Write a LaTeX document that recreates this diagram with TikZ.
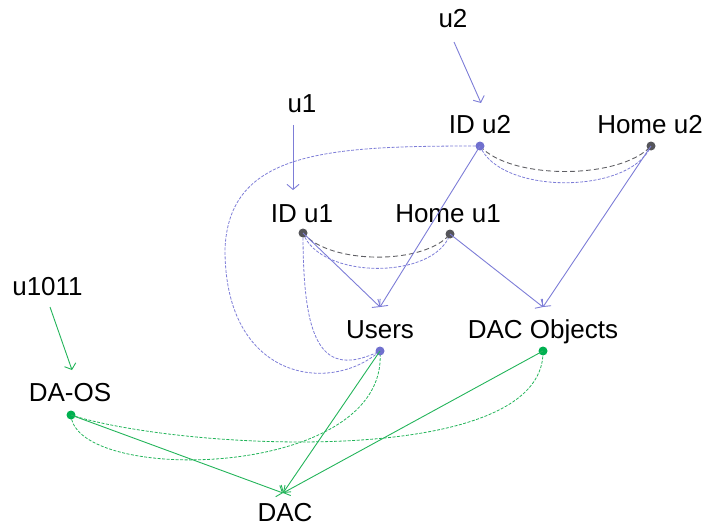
\documentclass[tikz,border=0pt]{standalone}
\usepackage{fontspec}
\setmainfont{Liberation Sans}
\usetikzlibrary{arrows.meta}
\definecolor{bline}{RGB}{125,125,215}
\definecolor{bdot}{RGB}{112,112,206}
\definecolor{gline}{RGB}{35,180,90}
\definecolor{gdot}{RGB}{0,176,80}
\definecolor{kdot}{RGB}{85,85,90}
\definecolor{kline}{RGB}{95,95,100}
\tikzset{
  lbl/.style={anchor=base, inner sep=0pt, font=\fontsize{26}{30}\selectfont},
  dotnode/.style={circle, fill=#1, inner sep=0pt, minimum size=9pt},
  tip/.style={-{Straight Barb[length=5pt,width=12pt]}},
  flow/.style={draw=#1, line width=0.9pt, tip},
  link/.style={draw=#1, line width=0.8pt, dash pattern=on 3pt off 1.5pt},
  graylink/.style={draw=kline, line width=0.9pt, dash pattern=on 5pt off 3pt},
}
\begin{document}
\begin{tikzpicture}[x=1pt, y=-1pt]
\useasboundingbox (0,0) rectangle (705,527);

% labels
\node[lbl] (u2)    at (453,28)  {u2};
\node[lbl] (u1)    at (302,113) {u1};
\node[lbl] (idu2l) at (480,133) {ID u2};
\node[lbl] (hu2l)  at (650,133) {Home u2};
\node[lbl] (idu1l) at (302,222) {ID u1};
\node[lbl] (hu1l)  at (448,222) {Home u1};
\node[lbl] (usl)   at (380,338) {Users};
\node[lbl] (dacol) at (543,338) {DAC Objects};
\node[lbl] (u1011) at (47.5,295) {u1011};
\node[lbl] (daosl) at (70,401)  {DA-OS};
\node[lbl] (dacl)  at (285,521) {DAC};

% arrow ends
\coordinate (u2out)    at (454,42);
\coordinate (idu2in)   at (481,103);
\coordinate (u1out)    at (293,125);
\coordinate (idu1in)   at (293,190);
\coordinate (u1011out) at (50,307);
\coordinate (daosin)   at (72,370);
\coordinate (usin)     at (380,307);
\coordinate (dacoin)   at (543,307);
\coordinate (dacin)    at (283,493);

% entry arrows
\draw[flow=bline] (u2out) -- (idu2in);
\draw[flow=bline] (u1out) -- (idu1in);
\draw[flow=gline] (u1011out) -- (daosin);

% dashed links
\path[graylink] (480,146) .. controls (510,180) and (620,180) .. (651,146);
\path[link=bline] (480,146) .. controls (500,195) and (630,195) .. (651,146);
\path[graylink] (303,233) .. controls (330,265) and (425,265) .. (450,234);
\path[link=bline] (303,233) .. controls (320,280) and (435,280) .. (450,234);
\path[link=bline] (480,146) .. controls (330,146) and (228,150) .. (225,250)
                            .. controls (225,380) and (330,395) .. (380,351);
\path[link=bline] (303,233) .. controls (303,340) and (320,380) .. (380,351);
\path[link=gline] (71,415) .. controls (180,450) and (545,470) .. (543,351);
\path[link=gline] (71,415) .. controls (75,485) and (390,480) .. (380,351);

% dots
\node[dotnode=bdot] (idu2) at (480,146) {};
\node[dotnode=kdot] (hu2)  at (651,146) {};
\node[dotnode=kdot] (idu1) at (303,233) {};
\node[dotnode=kdot] (hu1)  at (450,234) {};
\node[dotnode=bdot] (us)   at (380,351) {};
\node[dotnode=gdot] (daco) at (543,351) {};
\node[dotnode=gdot] (daos) at (71,415)  {};

% solid arrows
\draw[flow=bline] (idu1.center) -- (usin);
\draw[flow=bline] (idu2.center) -- (usin);
\draw[flow=bline] (hu1.center) -- (dacoin);
\draw[flow=bline] (hu2.center) -- (dacoin);
\draw[flow=gline] (daos.center) -- (dacin);
\draw[flow=gline] (us.center) -- (dacin);
\draw[flow=gline] (daco.center) -- (dacin);
\end{tikzpicture}
\end{document}
